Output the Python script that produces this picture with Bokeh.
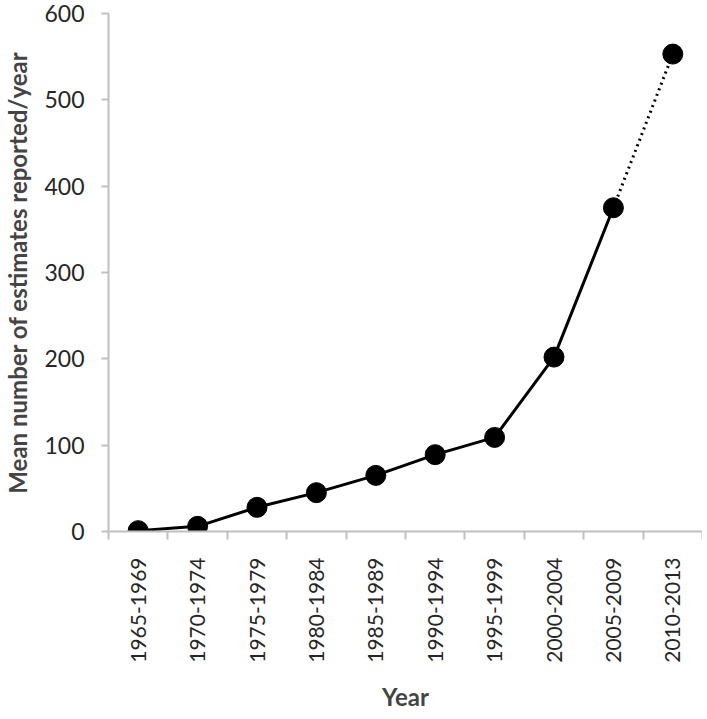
import math
from bokeh.plotting import figure
from bokeh.models import FixedTicker, Range1d
from bokeh.embed import file_html
from bokeh.resources import INLINE

periods = ["1965-1969", "1970-1974", "1975-1979", "1980-1984", "1985-1989",
           "1990-1994", "1995-1999", "2000-2004", "2005-2009", "2010-2013"]
mean_estimates = [1, 6, 28, 45, 65, 89, 109, 202, 375, 553]
y_ticks = [0, 100, 200, 300, 400, 500, 600]

FONT = "Lato"
GREY = "#bfbfbf"

xs = list(range(1, len(periods) + 1))

p = figure(frame_width=594, frame_height=518,
           x_range=Range1d(0.5, len(periods) + 0.5), y_range=Range1d(0, 600),
           output_backend="svg", toolbar_location=None,
           min_border_left=0, min_border_right=0, min_border_top=13, min_border_bottom=0)
p.grid.visible = False
p.outline_line_color = None
p.background_fill_color = "white"

p.line(xs[:9], mean_estimates[:9], line_width=3, color="black")
p.line(xs[8:], mean_estimates[8:], line_width=3, line_dash="2 4", color="black")
p.scatter(xs, mean_estimates, size=20, color="black")

xa = p.xaxis[0]
xa.ticker = FixedTicker(ticks=xs, minor_ticks=[x + 0.5 for x in range(0, len(periods) + 1)])
xa.major_label_overrides = {x: lab for x, lab in zip(xs, periods)}
xa.major_label_orientation = math.pi / 2
xa.major_tick_out = 0
xa.major_tick_in = 0
xa.minor_tick_out = 8
xa.minor_tick_in = 0
xa.minor_tick_line_color = GREY
xa.minor_tick_line_width = 2
xa.axis_line_color = GREY
xa.axis_line_width = 2
xa.major_label_standoff = 18
xa.major_label_text_font = FONT
xa.major_label_text_font_size = "21px"
xa.major_label_text_color = "#262626"
xa.axis_label = "Year"
xa.axis_label_text_font = FONT
xa.axis_label_text_font_style = "bold"
xa.axis_label_text_font_size = "24px"
xa.axis_label_standoff = 16

ya = p.yaxis[0]
ya.ticker = FixedTicker(ticks=y_ticks, minor_ticks=[])
ya.major_tick_out = 7
ya.major_tick_in = 0
ya.minor_tick_out = 0
ya.minor_tick_in = 0
ya.major_tick_line_color = GREY
ya.major_tick_line_width = 2
ya.axis_line_color = GREY
ya.axis_line_width = 2
ya.major_label_standoff = 17
ya.major_label_text_font = FONT
ya.major_label_text_font_size = "23px"
ya.major_label_text_color = "#262626"
ya.axis_label = "Mean number of estimates reported/year"
ya.axis_label_text_font = FONT
ya.axis_label_text_font_style = "bold"
ya.axis_label_text_font_size = "24px"
ya.axis_label_standoff = 9

open("out.html", "w").write(file_html(p, INLINE))
